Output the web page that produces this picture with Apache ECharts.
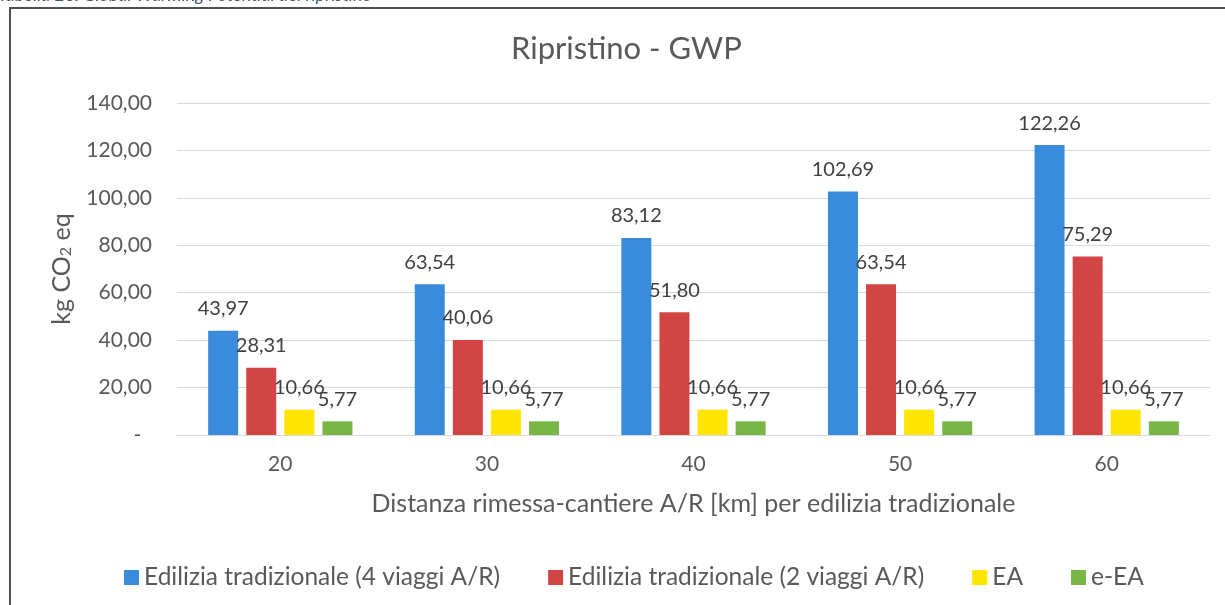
<!DOCTYPE html>
<html>
<head>
<meta charset="utf-8">
<script src="https://cdn.jsdelivr.net/npm/echarts@6/dist/echarts.min.js"></script>
<style>
  html, body { margin: 0; padding: 0; background: #fff; }
  #chart { width: 1225px; height: 605px; }
</style>
</head>
<body>
<div id="chart"></div>
<script>
// categorie: distanza A/R in km
var distanze = ['20', '30', '40', '50', '60'];

// valori kg CO2 eq
var trad4 = [43.97, 63.54, 83.12, 102.69, 122.26];
var trad2 = [28.31, 40.06, 51.80, 63.54, 75.29];
var ea = [10.66, 10.66, 10.66, 10.66, 10.66];
var eea = [5.77, 5.77, 5.77, 5.77, 5.77];

var nomi = ['Edilizia tradizionale (4 viaggi A/R)', 'Edilizia tradizionale (2 viaggi A/R)', 'EA', 'e-EA'];
var colori = ['#3b8bdc', '#d24545', '#ffe500', '#7ab547'];

var font = 'Lato';
var grigio = '#595959';

function virgola(v, d) {
    return v.toFixed(d).replace('.', ',');
}

var chart = echarts.init(document.getElementById('chart'));

function serie(i, dati) {
    return {
        name: nomi[i],
        type: 'bar',
        data: dati,
        barWidth: 30,
        barGap: '27%',
        itemStyle: { color: colori[i] },
        label: {
            show: true,
            position: 'top',
            distance: 12,
            fontFamily: font,
            fontSize: 20,
            color: '#404040',
            formatter: function (p) { return virgola(p.value, 2); }
        }
    };
}

var option = {
    backgroundColor: '#fff',
    textStyle: { fontFamily: font },
    title: {
        text: 'Ripristino - GWP',
        left: 506,
        top: 28,
        textStyle: { fontFamily: font, fontSize: 31, fontWeight: 'normal', color: grigio }
    },
    // cornice e didascalia tagliata in alto
    graphic: [
        {
            type: 'rect',
            shape: { x: 10, y: 8, width: 1240, height: 640 },
            style: { fill: 'none', stroke: '#505050', lineWidth: 2 }
        },
        {
            type: 'text',
            left: -2,
            top: -14,
            style: {
                text: 'Tabella 26: Global Warming Potential del ripristino',
                font: 'italic 18px Lato',
                fill: '#44546a'
            }
        }
    ],
    legend: {
        left: 119,
        top: 560,
        itemWidth: 15,
        itemHeight: 15,
        itemGap: 48,
        icon: 'rect',
        textStyle: { fontFamily: font, fontSize: 24.5, color: grigio },
        data: nomi
    },
    grid: { left: 177, right: 15, top: 103, bottom: 170 },
    xAxis: {
        type: 'category',
        data: distanze,
        name: 'Distanza rimessa-cantiere A/R [km] per edilizia tradizionale',
        nameLocation: 'middle',
        nameGap: 56,
        nameTextStyle: { fontFamily: font, fontSize: 25, color: grigio },
        axisLine: { lineStyle: { color: '#d9d9d9', width: 1 } },
        axisTick: { show: false },
        axisLabel: { margin: 19, fontFamily: font, fontSize: 21, color: grigio }
    },
    yAxis: {
        type: 'value',
        min: 0,
        max: 140,
        interval: 20,
        name: '{a|kg CO}{b|2}{a| eq}',
        nameLocation: 'middle',
        nameGap: 103,
        nameTextStyle: {
            rich: {
                a: { fontFamily: font, fontSize: 25, color: grigio },
                b: { fontFamily: font, fontSize: 16, color: grigio, verticalAlign: 'bottom' }
            }
        },
        axisLine: { show: false },
        axisTick: { show: false },
        splitLine: { lineStyle: { color: '#d9d9d9', width: 1 } },
        axisLabel: {
            margin: 25,
            fontFamily: font,
            fontSize: 21,
            color: grigio,
            formatter: function (v) { return v === 0 ? '-  ' : virgola(v, 2); }
        }
    },
    series: [serie(0, trad4), serie(1, trad2), serie(2, ea), serie(3, eea)]
};

chart.setOption(option);
</script>
</body>
</html>
